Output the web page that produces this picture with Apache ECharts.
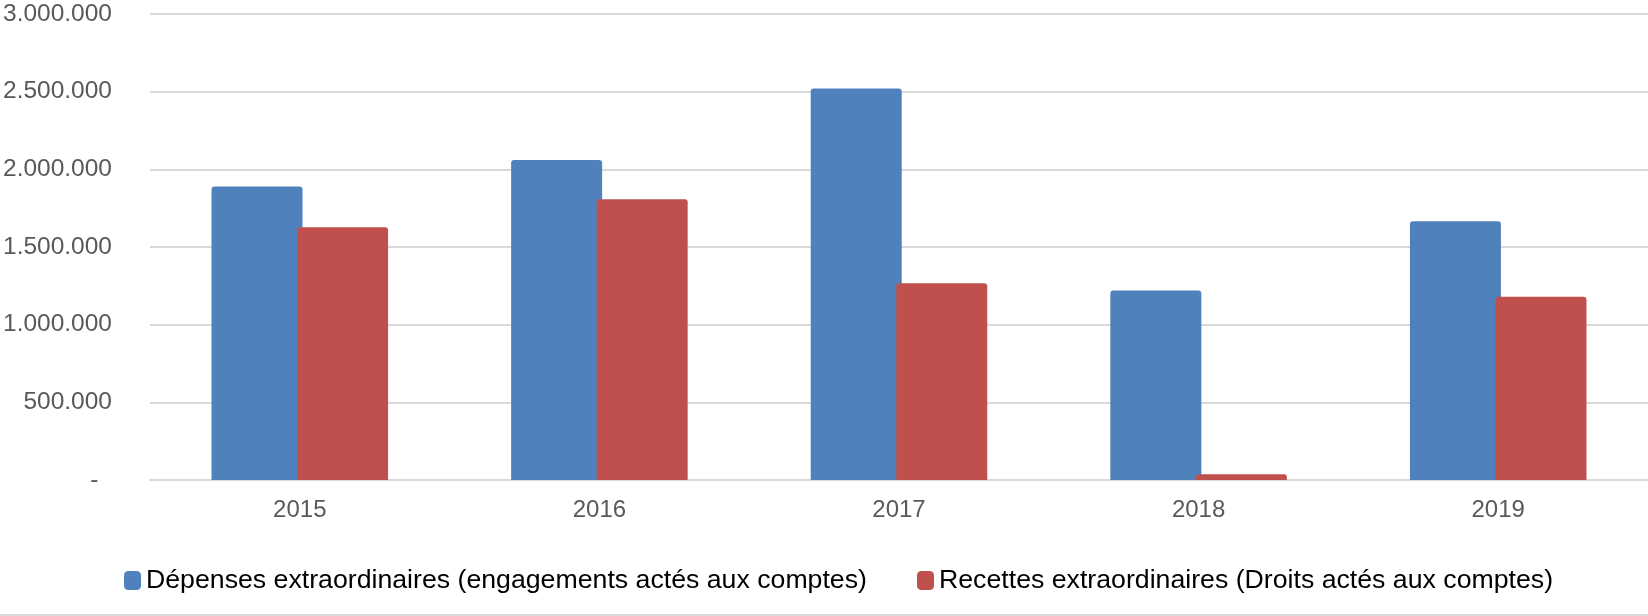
<!DOCTYPE html>
<html>
<head>
<meta charset="utf-8">
<script src="https://cdn.jsdelivr.net/npm/echarts@6/dist/echarts.min.js"></script>
<style>
html,body{margin:0;padding:0;background:#fff;}
#c{width:1648px;height:616px;}
</style>
</head>
<body>
<div id="c"></div>
<script>
const categories = ['2015', '2016', '2017', '2018', '2019'];
const depenses = [1890000, 2060000, 2520000, 1220000, 1665000];
const recettes = [1627000, 1807000, 1266000, 37000, 1180000];
const yTicks = [0, 500000, 1000000, 1500000, 2000000, 2500000, 3000000];
const seriesNames = [
  'Dépenses extraordinaires (engagements actés aux comptes)',
  'Recettes extraordinaires (Droits actés aux comptes)'
];

function fmt(v) {
  if (v === 0) return '-  ';
  return String(v).replace(/\B(?=(\d{3})+(?!\d))/g, '.');
}

const baseFont = "'Liberation Sans', Arial, sans-serif";
const chart = echarts.init(document.getElementById('c'), null, {renderer: 'canvas'});
chart.setOption({
  animation: false,
  backgroundColor: '#ffffff',
  grid: {left: 145, width: 1506, top: 14, bottom: 136, containLabel: false},
  xAxis: {
    type: 'category',
    data: categories,
    axisLine: {show: true, lineStyle: {color: '#d9d9d9', width: 2}},
    axisTick: {show: false},
    axisLabel: {color: '#595959', fontSize: 24, fontFamily: baseFont, margin: 18}
  },
  yAxis: {
    type: 'value',
    min: yTicks[0],
    max: yTicks[yTicks.length - 1],
    interval: yTicks[1] - yTicks[0],
    axisLine: {show: false},
    axisTick: {show: false},
    splitLine: {lineStyle: {color: '#d9d9d9', width: 2}},
    axisLabel: {color: '#595959', fontSize: 24.5, fontFamily: baseFont, margin: 38, formatter: fmt}
  },
  legend: [
    {
      data: [seriesNames[0]],
      left: 124, top: 567, padding: 0,
      itemWidth: 17, itemHeight: 19,
      icon: 'roundRect',
      textStyle: {color: '#000', fontSize: 26.7, fontFamily: baseFont}
    },
    {
      data: [seriesNames[1]],
      left: 917, top: 567, padding: 0,
      itemWidth: 17, itemHeight: 19,
      icon: 'roundRect',
      textStyle: {color: '#000', fontSize: 26.7, fontFamily: baseFont}
    }
  ],
  graphic: [
    {type: 'line', shape: {x1: 0, y1: 615, x2: 1648, y2: 615}, style: {stroke: '#d9d9d9', lineWidth: 2}, silent: true}
  ],
  series: [
    {
      name: seriesNames[0], type: 'bar', data: depenses,
      barWidth: 91, barGap: '-6%',
      itemStyle: {color: '#4f81bd', borderRadius: [3, 3, 0, 0]}
    },
    {
      name: seriesNames[1], type: 'bar', data: recettes,
      barWidth: 91, barGap: '-6%',
      itemStyle: {color: '#c0504d', borderRadius: [3, 3, 0, 0]}
    }
  ]
});
</script>
</body>
</html>
